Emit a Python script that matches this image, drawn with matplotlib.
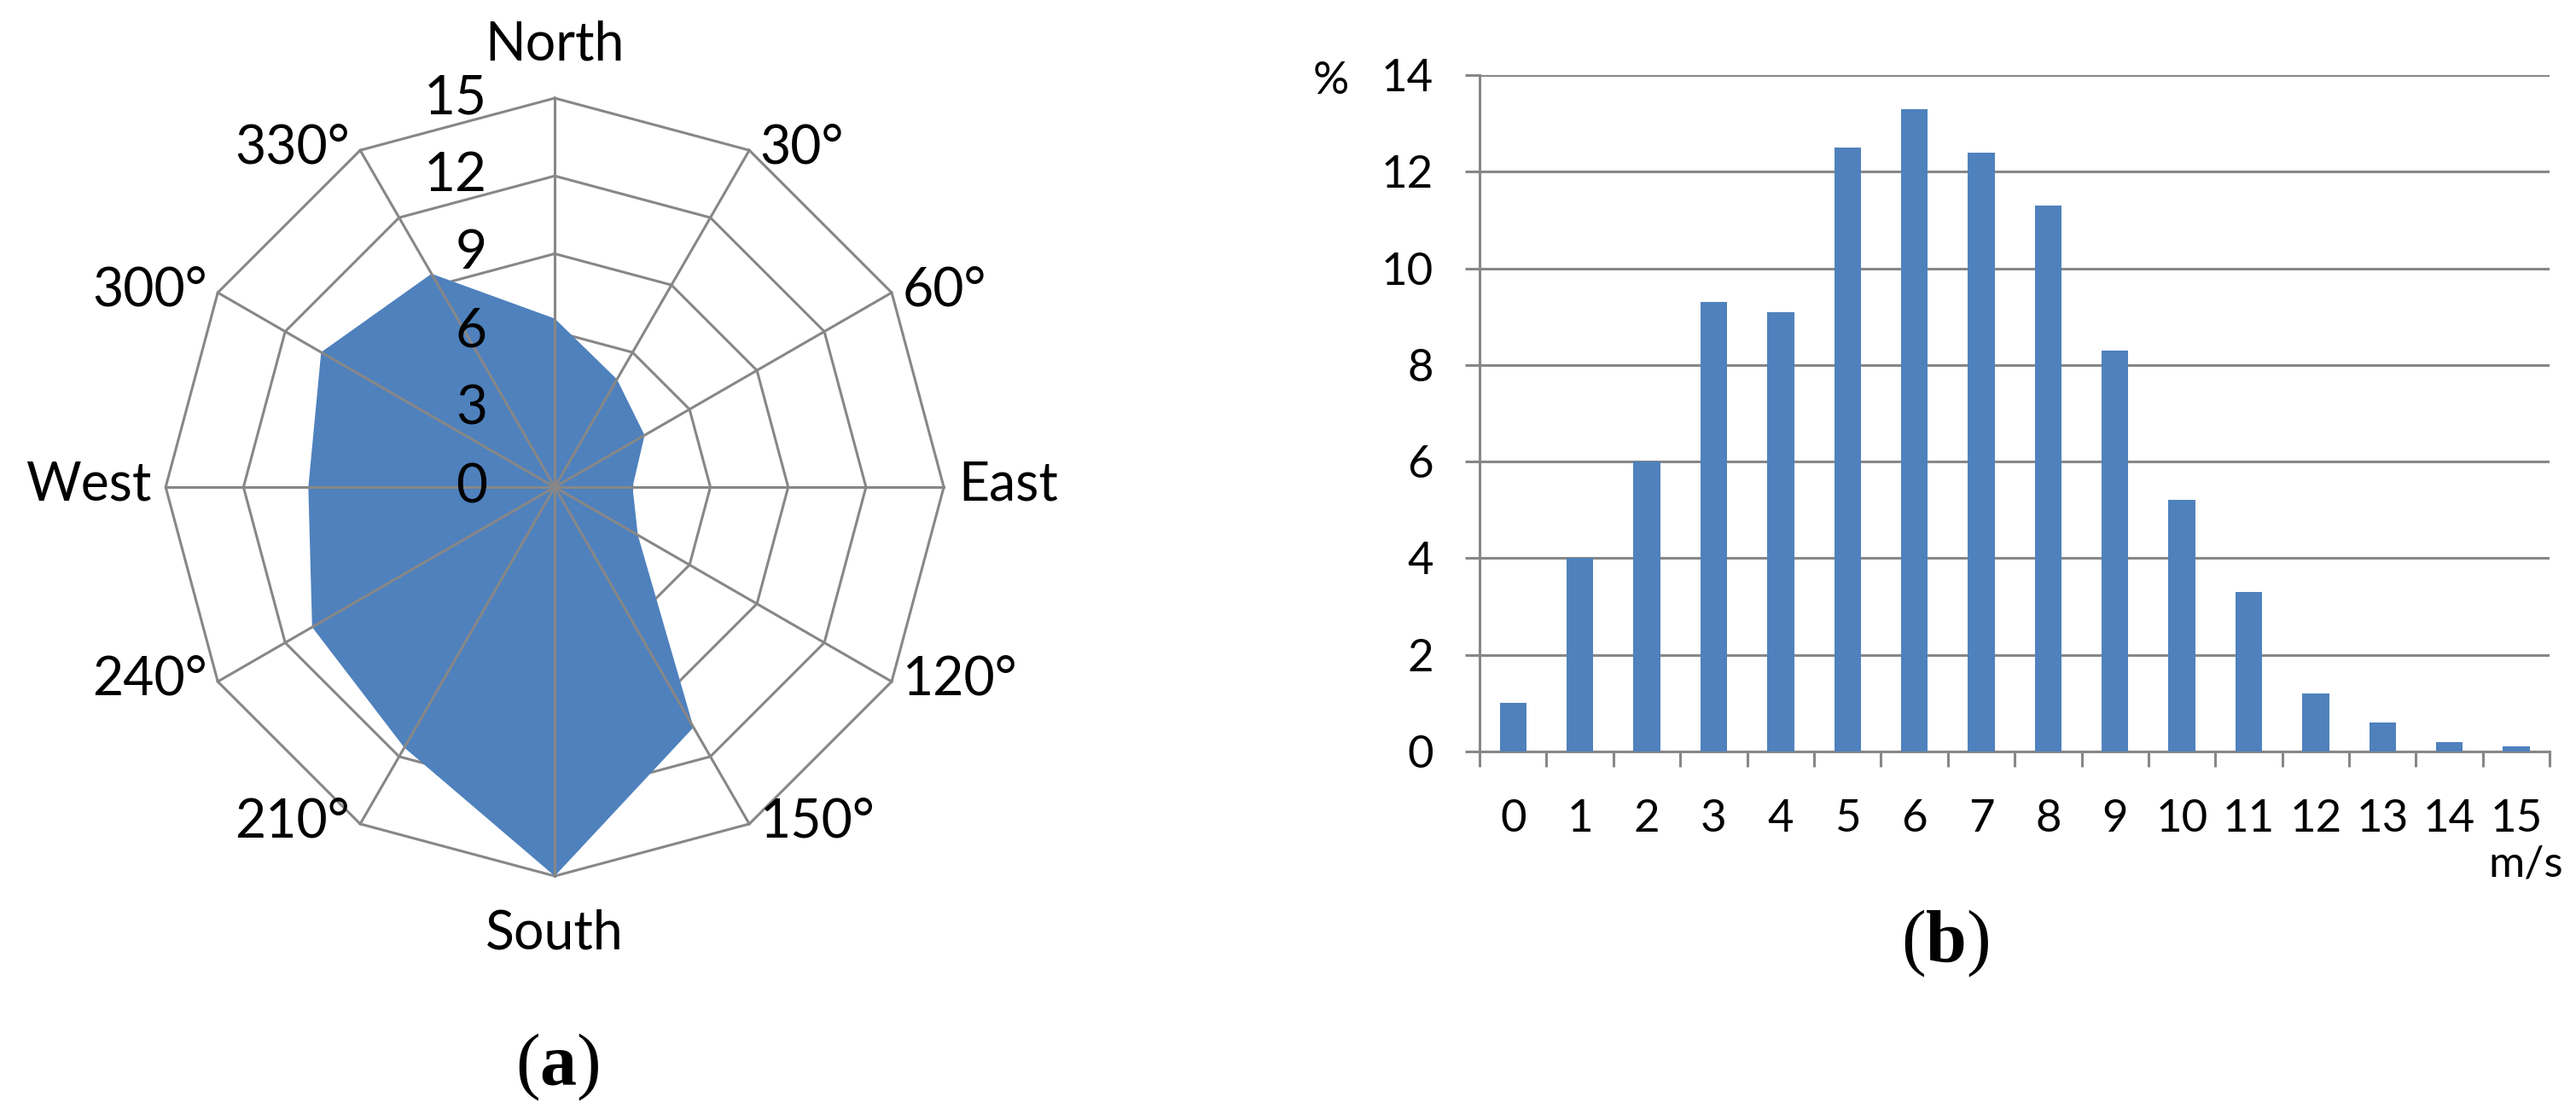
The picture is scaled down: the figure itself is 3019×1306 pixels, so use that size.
import matplotlib
matplotlib.use('Agg')
import matplotlib.pyplot as plt
import numpy as np

# wind direction frequency (%), radar chart (a)
directions = ['North', '30°', '60°', 'East', '120°', '150°',
              'South', '210°', '240°', 'West', '300°', '330°']
dir_freq = [6.5, 4.8, 4.0, 3.0, 3.7, 10.7, 15.0, 11.6, 10.8, 9.5, 10.4, 9.5]
dir_angles = [0, 30, 60, 90, 120, 150, 180, 210, 240, 270, 300, 330]
radial_ticks = [0, 3, 6, 9, 12, 15]

# wind speed frequency (%), bar chart (b)
speeds = list(range(16))
speed_freq = [1.0, 4.0, 6.0, 9.3, 9.1, 12.5, 13.3, 12.4, 11.3, 8.3,
              5.2, 3.3, 1.2, 0.6, 0.2, 0.1]
y_ticks = [0, 2, 4, 6, 8, 10, 12, 14]

BLUE = '#4F81BD'
GRID = '#878787'

plt.rcParams['font.family'] = ['Lato', 'DejaVu Sans']
plt.rcParams['mathtext.fontset'] = 'custom'
plt.rcParams['mathtext.rm'] = 'Liberation Serif'
plt.rcParams['mathtext.bf'] = 'Liberation Serif:bold'

fig = plt.figure(figsize=(30.19, 13.06), dpi=100)

# ---- (a) radar ----
ax = fig.add_axes([0.0643, 0.2136, 0.3021, 0.6983], projection='polar')
ax.set_theta_zero_location('N')
ax.set_theta_direction(-1)
ax.set_ylim(0, radial_ticks[-1])
ax.grid(False)
ax.set_xticks([])
ax.set_yticks([])
ax.spines['polar'].set_visible(False)
ax.patch.set_alpha(0)

theta = np.deg2rad(dir_angles)
theta_c = np.append(theta, theta[0])
vals_c = np.append(dir_freq, dir_freq[0])
rmax = radial_ticks[-1]

# rings under the fill, spokes over it
for r in radial_ticks[1:]:
    ax.plot(theta_c, [r] * len(theta_c), color=GRID, lw=2.2, zorder=1, clip_on=False)
ax.fill(theta_c, vals_c, color=BLUE, lw=0, zorder=2)
for t in theta:
    ax.plot([t, t], [0, rmax], color=GRID, lw=2.2, zorder=3, clip_on=False)

for v in radial_ticks:
    ax.annotate(str(v), xy=(0, v), xytext=(-57, 0), textcoords='offset points',
                ha='right', va='center', fontsize=46, zorder=4)

for t, lab in zip(theta, directions):
    s, c = np.sin(t), np.cos(t)
    if abs(s) < 0.1:
        if c > 0:
            ax.annotate(lab, xy=(t, rmax), xytext=(0, 32), textcoords='offset points',
                        ha='center', va='baseline', fontsize=45, annotation_clip=False)
        else:
            ax.annotate(lab, xy=(t, rmax), xytext=(0, -28), textcoords='offset points',
                        ha='center', va='top', fontsize=45, annotation_clip=False)
    else:
        ha = 'left' if s > 0 else 'right'
        dx = 12 if abs(c) < 0.1 else 9
        ax.annotate(lab, xy=(t, rmax), xytext=(dx * np.sign(s), 2), textcoords='offset points',
                    ha=ha, va='center', fontsize=45, annotation_clip=False)

fig.text(653 / 3019, 1 - 1251 / 1306, r'($\mathbf{a}$)', family='Liberation Serif',
         fontsize=62, ha='center', va='center')

# ---- (b) bars ----
ax2 = fig.add_axes([0.5744, 0.3254, 0.4154, 0.6072])
ax2.bar(speeds, speed_freq, width=0.4, color=BLUE, zorder=3)
ax2.set_xlim(-0.5, len(speeds) - 0.5)
ax2.set_ylim(0, y_ticks[-1])
ax2.set_yticks(y_ticks)
ax2.set_xticks(speeds)
ax2.set_xticklabels([str(s) for s in speeds])
ax2.set_xticks(np.arange(-0.5, len(speeds), 1), minor=True)
ax2.grid(axis='y', color=GRID, lw=2.2, zorder=0)
for side in ['top', 'right']:
    ax2.spines[side].set_visible(False)
for side in ['left', 'bottom']:
    ax2.spines[side].set_color(GRID)
    ax2.spines[side].set_linewidth(2.2)
ax2.tick_params(axis='y', length=12, width=2.2, color=GRID, labelsize=38, pad=27)
ax2.tick_params(axis='x', which='major', length=0, labelsize=38, pad=40)
ax2.tick_params(axis='x', which='minor', length=13, width=2.2, color=GRID)

fig.text(1560 / 3019, 1 - 95 / 1306, '%', fontsize=38, ha='center', va='center')
fig.text(2960 / 3019, 1 - 1013 / 1306, 'm/s', fontsize=37, ha='center', va='center')
fig.text(2280 / 3019, 1 - 1106 / 1306, r'($\mathbf{b}$)', family='Liberation Serif',
         fontsize=62, ha='center', va='center')

plt.savefig('out.png', dpi=100, facecolor='white')
plt.close()
